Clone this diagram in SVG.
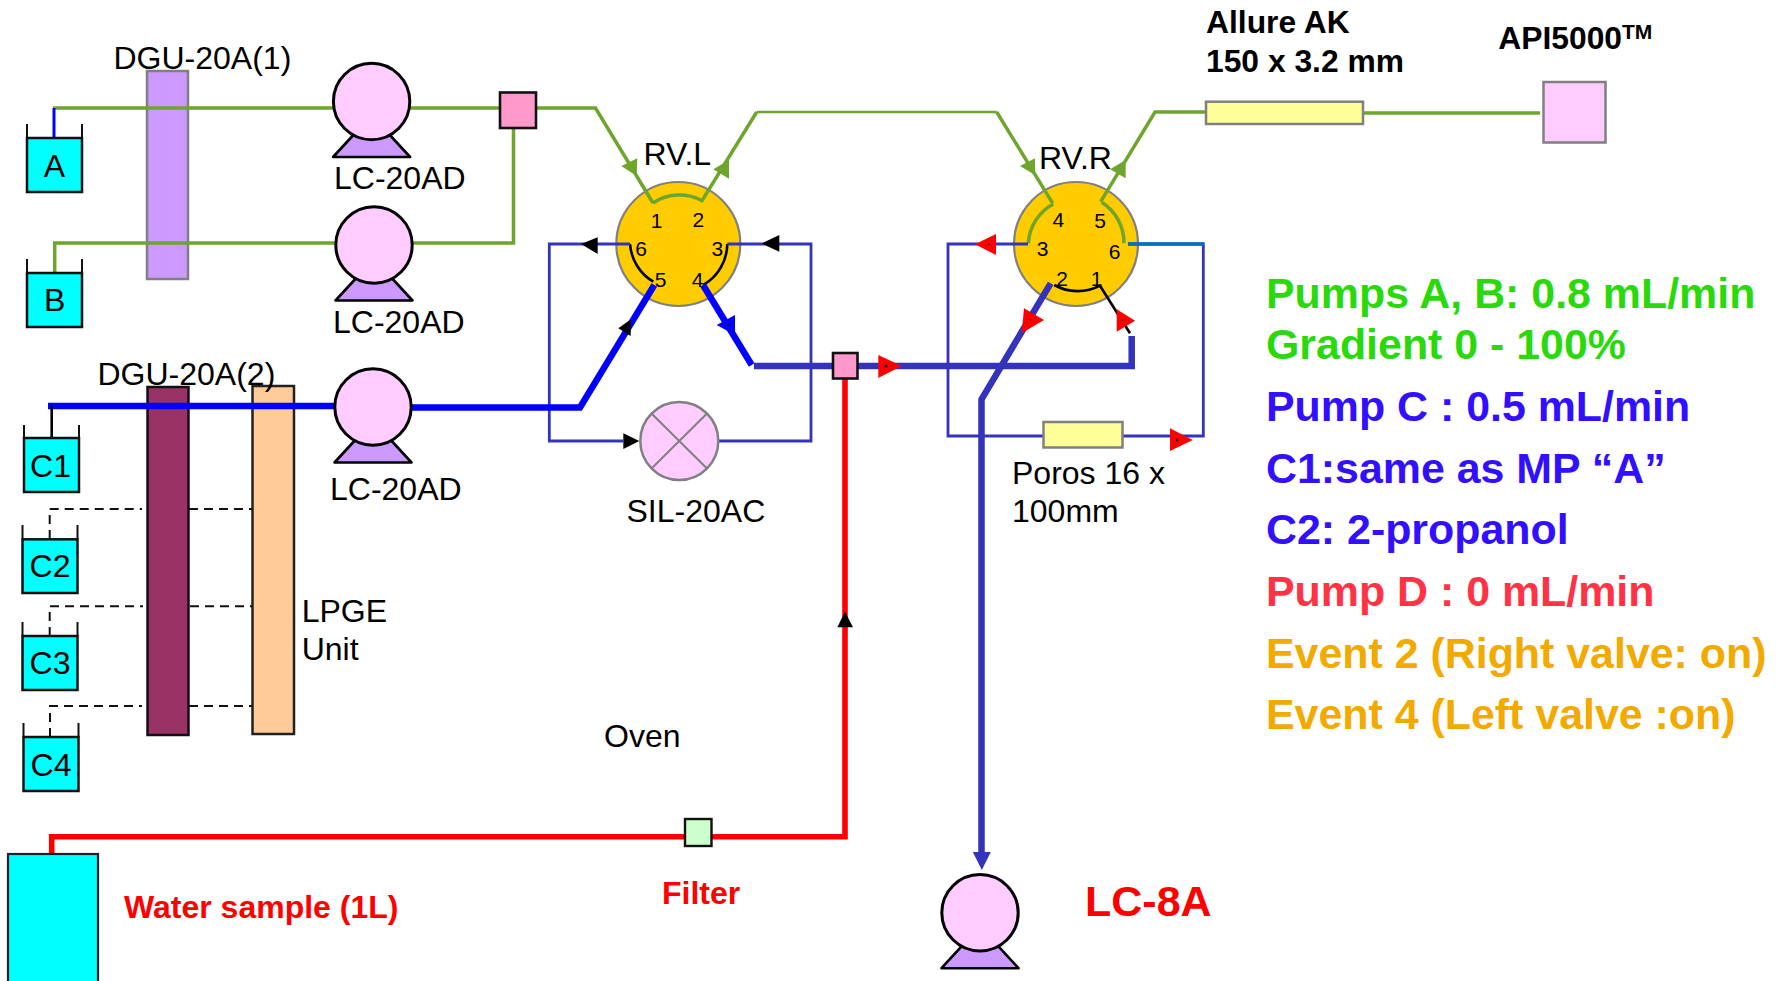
<svg xmlns="http://www.w3.org/2000/svg" width="1778" height="981" viewBox="0 0 1778 981">
<style>
text{font-family:"Liberation Sans",Arial,sans-serif;fill:#000}
.t{font-size:32px}
.n{font-size:21px;text-anchor:middle}
.c{text-anchor:middle;font-size:32px}
.h{font-size:42.9px;font-weight:700}
.b{font-weight:700}
.liq{fill:#00FFFF;stroke:#111;stroke-width:2.5}
.wall{fill:none;stroke:#111;stroke-width:2}
.valve{fill:#FFCC00;stroke:#808080;stroke-width:2.2}
.gbox{stroke:#808080;stroke-width:2.5}
.ln{fill:none;stroke-linejoin:miter}
.g1{stroke:#6EA52D;stroke-width:3.5}
.g2{stroke:#6EA52D;stroke-width:2.4}
.bt{stroke:#3333BB;stroke-width:2.8}
.bk{stroke:#3333BB;stroke-width:6.5}
.bl{stroke:#0000FF;stroke-width:6.5}
.rd{stroke:#FF0000;stroke-width:5.6}
.ka{stroke:#000;stroke-width:2.6}
.dash{stroke:#111;stroke-width:2;stroke-dasharray:9 6}
.ag{fill:#6EA52D}.ak{fill:#000}.ar{fill:#FF0000}.au{fill:#0000FF}.an{fill:#3333BB}
.pink{fill:#FF99CC;stroke:#111;stroke-width:2.6}
.pc{fill:#FFCCFF;stroke:#000;stroke-width:3}
.pb{fill:#CC99FF;stroke:#000;stroke-width:2.6;stroke-linejoin:round}
.col{fill:#FFFF99;stroke:#808080;stroke-width:2.5}
</style>
<defs>
<g id="pump">
<polygon class="pb" points="-15,30 15,30 38.5,55.5 -38.5,55.5"/>
<circle class="pc" r="38.2"/>
</g>
</defs>

<g id="valve-l">
<circle class="valve" cx="678.3" cy="244" r="62"/>
<text class="n" x="656.7" y="227.7">1</text><text class="n" x="698.3" y="226.7">2</text><text class="n" x="717.3" y="255.7">3</text><text class="n" x="697.7" y="286.7">4</text><text class="n" x="660.7" y="286.7">5</text><text class="n" x="641" y="255.7">6</text>
</g>
<g id="valve-r">
<circle class="valve" cx="1076" cy="244" r="62"/>
<text class="n" x="1058.3" y="227">4</text><text class="n" x="1100" y="227.7">5</text><text class="n" x="1042.7" y="255.7">3</text><text class="n" x="1114.7" y="259">6</text><text class="n" x="1062" y="285.7">2</text><text class="n" x="1096.7" y="285.7">1</text>
</g>
<g id="dgu1"><rect class="gbox" x="147" y="71" width="41" height="208" fill="#CC99FF"/></g>
<g id="dgu2"><rect x="147.5" y="387" width="41" height="348" fill="#993366" stroke="#111" stroke-width="2.5"/></g>
<g id="lpge"><rect x="252.5" y="386" width="41.5" height="348" fill="#FFCC99" stroke="#222" stroke-width="2.5"/></g>

<g id="connectors">
<path class="ln g1" d="M53 108H334M409 108H499M537 108H595.5L653 203"/>
<path class="ln" stroke="#0000FF" stroke-width="3" d="M54 108V139"/>
<path class="ln g1" d="M54.700 275V243H336M412 243H513.500V128"/>
<path class="ln g1" d="M653 203A48 48 0 0 1 702 200.700L756.700 112"/>
<path class="ln g2" d="M756.700 112H996.700"/>
<path class="ln g1" d="M996.700 112L1052.700 203.300M1053.300 204A48 48 0 0 0 1028.300 243.300"/>
<path class="ln g1" d="M1101.700 202.300A48 48 0 0 1 1124 243.300M1100.700 201.700L1155 112H1206M1363 113H1540"/>
<path class="ln ka" d="M630 244A48 48 0 0 0 653.300 281.700M727.300 244A48 48 0 0 1 703.300 285M1054.300 285A48 48 0 0 0 1100 285.700L1130 333.300"/>
<path class="ln bt" d="M630 244H549.300V441H623M718 441H811V244H727.300"/>
<path class="ln bt" d="M1028 244H948V436H1043M1123 436H1203.300V244H1128"/>
<path class="ln" stroke="#0070C0" stroke-width="3.6" d="M1128 244H1204"/>
<path class="ln bl" d="M48 406H336"/>
<path class="ln bl" d="M410 407.500H580L654.300 285"/>
<path class="ln ka" d="M51.700 406V440"/>
<path class="ln dash" d="M49.700 539V509H142M189 509H252"/>
<path class="ln dash" d="M49.700 636V606.300H143M190 606.300H252"/>
<path class="ln dash" d="M50 737V706H142M189 706H252"/>
<path class="ln rd" d="M51.700 854V836.700H685M712 836.700H845V376"/>
<path class="ln bl" d="M703 285L751.700 365"/>
<path class="ln bk" d="M754 366H833M857 366H1131.700V336"/>
<path class="ln bk" d="M1050.700 283.300L981.500 399.300V856"/>
<polygon class="ag" points="637.300,158.300 621.300,166 636.700,176"/>
<polygon class="ag" points="729,160 713.300,169.300 729,178.700"/>
<polygon class="ag" points="1035,158.300 1020,166 1035,175"/>
<polygon class="ag" points="1125.700,160 1110,169.300 1125.700,178.300"/>
<polygon class="ak" points="581,244 597.700,237.300 597.700,254"/>
<polygon class="ak" points="761.700,243.500 779.300,235 779.300,251.700"/>
<polygon class="ak" points="639.300,441 623.300,433.300 623.300,449"/>
<polygon class="ak" points="631,319.300 618.300,328.300 630.700,336"/>
<polygon class="ak" points="845,611.700 837.300,627.300 853,627.300"/>
<polygon class="au" points="735,315 716.700,325 735,335"/>
<polygon class="an" points="972.800,852 990.800,852 981.800,870"/>
<polygon class="ar" points="975,244.300 996,234 996,255"/>
<polygon class="ar" points="901.700,366 878.300,355 878.300,378"/>
<polygon class="ar" points="1192.700,440 1170,428.300 1170,451"/>
<polygon class="ar" points="1024,308.300 1044,320 1021.700,333.300"/>
<polygon class="ar" points="1116.700,309.300 1135,320.700 1116.700,331.700"/>
<circle class="ak" cx="886" cy="366" r="1.500"/><circle class="ak" cx="989" cy="244.300" r="0.800"/><circle class="ak" cx="1177" cy="440" r="1.200"/><circle class="ak" cx="1030.500" cy="320" r="0.800"/><circle class="ak" cx="1122.500" cy="320.500" r="0.800"/><circle class="ak" cx="728" cy="325" r="1"/>
</g>

<g id="res-a"><rect class="liq" x="27" y="138" width="55" height="54"/><path class="wall" d="M27 124V138M82 124V138"/><text class="c" x="54.400" y="176.700">A</text></g>
<g id="res-b"><rect class="liq" x="27" y="273" width="55" height="54"/><path class="wall" d="M27 259V273M82 259V273"/><text class="c" x="54.700" y="311">B</text></g>
<g id="res-c1"><rect class="liq" x="24" y="438" width="55" height="54"/><path class="wall" d="M24 425V438M79 425V438"/><text class="c" x="50.500" y="476.700">C1</text></g>
<g id="res-c2"><rect class="liq" x="22.500" y="539.300" width="55" height="53.700"/><path class="wall" d="M22.500 525V539M77.500 525V539"/><text class="c" x="50" y="577">C2</text></g>
<g id="res-c3"><rect class="liq" x="22.500" y="636" width="55" height="54"/><path class="wall" d="M22.500 622V636M77.500 622V636"/><text class="c" x="50" y="674">C3</text></g>
<g id="res-c4"><rect class="liq" x="23.500" y="737" width="55" height="54"/><path class="wall" d="M23.500 723V737M78.500 723V737"/><text class="c" x="51" y="775.500">C4</text></g>
<g id="sample"><rect x="8" y="854" width="90" height="140" fill="#00FFFF" stroke="#222" stroke-width="2.2"/></g>

<g id="pump-a"><use href="#pump" x="371.600" y="101.500"/></g>
<g id="pump-b"><use href="#pump" x="374" y="245"/></g>
<g id="pump-c"><use href="#pump" x="373" y="407"/></g>
<g id="pump-lc8a"><use href="#pump" x="980" y="912.700"/></g>
<g id="mixer-1"><rect class="pink" x="500" y="92.500" width="36" height="35.500"/></g>
<g id="mixer-2"><rect class="pink" x="833" y="353" width="24.500" height="25.500"/></g>
<g id="filter"><rect x="685" y="819" width="26.500" height="27" fill="#CCFFCC" stroke="#111" stroke-width="2.4"/></g>
<g id="sil">
<circle cx="679.300" cy="441" r="39" fill="#FFCCFF" stroke="#808080" stroke-width="2.500"/>
<path stroke="#808080" stroke-width="2" d="M651.500 413.500L707 468.500M707 413.500L651.500 468.500"/>
</g>
<g id="poros"><rect class="col" x="1043.500" y="422" width="79" height="25.500"/></g>
<g id="allure"><rect class="col" x="1206" y="101.700" width="157" height="22.300"/></g>
<g id="api"><rect x="1543.500" y="82" width="62" height="60.500" fill="#FFCCFF" stroke="#808080" stroke-width="2.500"/></g>

<g id="labels">
<text class="t" x="113.500" y="69">DGU-20A(1)</text>
<text class="t" x="97.500" y="384.500">DGU-20A(2)</text>
<text class="t" x="334" y="189">LC-20AD</text>
<text class="t" x="333" y="333">LC-20AD</text>
<text class="t" x="330" y="499.500">LC-20AD</text>
<text class="t" x="643.500" y="164.500">RV.L</text>
<text class="t" x="1039" y="169">RV.R</text>
<text class="t" x="626.500" y="521.700">SIL-20AC</text>
<text class="t" x="1012" y="484">Poros 16 x</text>
<text class="t" x="1012" y="521.700">100mm</text>
<text class="t" x="301.700" y="621.700">LPGE</text>
<text class="t" x="301.700" y="660">Unit</text>
<text class="t" x="604" y="746.700">Oven</text>
<text class="b" font-size="31.800" x="1206" y="33.300">Allure AK</text>
<text class="b" font-size="31.800" x="1206" y="72">150 x 3.2 mm</text>
<text class="b" font-size="31.800" x="1498.300" y="49">API5000<tspan font-size="21" dy="-10">TM</tspan></text>
<text class="b" font-size="32" x="124" y="917.700" style="fill:#FF0000">Water sample (1L)</text>
<text class="b" font-size="32" x="662" y="904" style="fill:#FF0000">Filter</text>
<text class="b" font-size="43" x="1085" y="916" style="fill:#FF0000">LC-8A</text>
<text class="h" x="1266" y="308.300" style="fill:#29D90B">Pumps A, B: 0.8 mL/min</text>
<text class="h" x="1266" y="358.800" style="fill:#29D90B">Gradient 0 - 100%</text>
<text class="h" x="1266" y="420.700" style="fill:#3210FF">Pump C : 0.5 mL/min</text>
<text class="h" x="1266" y="482.700" style="fill:#3210FF">C1:same as MP “A”</text>
<text class="h" x="1266" y="544" style="fill:#3210FF">C2: 2-propanol</text>
<text class="h" x="1266" y="605.700" style="fill:#FF3344">Pump D : 0 mL/min</text>
<text class="h" x="1266" y="667.700" style="fill:#F2A900">Event 2 (Right valve: on)</text>
<text class="h" x="1266" y="728.700" style="fill:#F2A900">Event 4 (Left valve :on)</text>
</g>
</svg>
